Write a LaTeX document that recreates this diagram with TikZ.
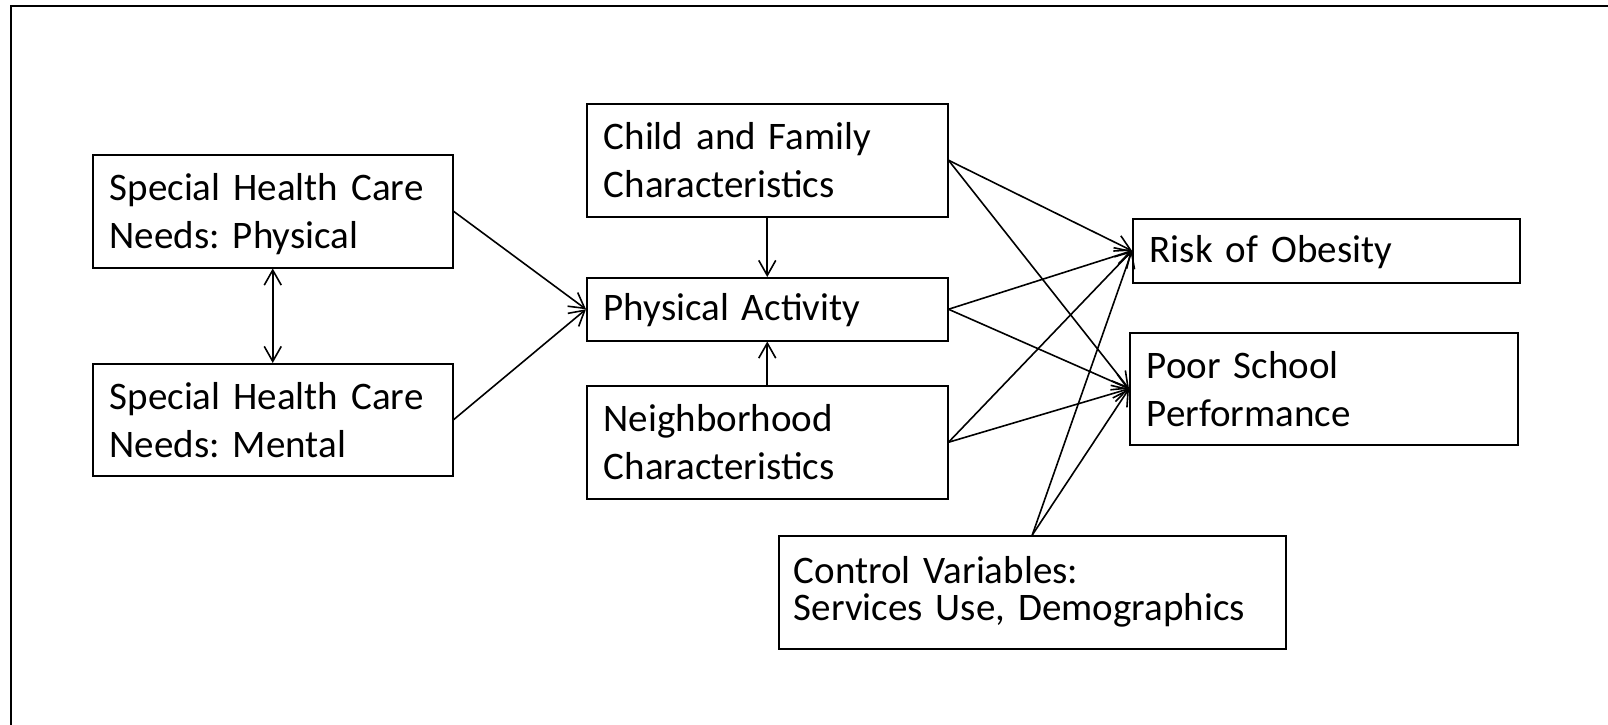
\documentclass[tikz,border=0pt]{standalone}
\usepackage{fontspec}
\setmainfont{Carlito}
\usetikzlibrary{arrows.meta}
\tikzset{
  box/.style={draw=black, line width=1.5pt, anchor=north west, align=left,
    inner xsep=17pt, inner ysep=0pt, font=\frenchspacing\fontsize{39}{48}\selectfont},
  oneline/.style={text height=27pt, text depth=4pt},
  conn/.style={line width=1.6pt, -{Straight Barb[length=15pt,width=17pt,line width=1.6pt]}},
  biconn/.style={line width=1.6pt, {Straight Barb[length=15pt,width=17pt,line width=1.6pt]}-{Straight Barb[length=15pt,width=17pt,line width=1.6pt]}},
  frame/.style={line width=2.2pt}
}
\begin{document}
\begin{tikzpicture}[x=1pt,y=-1pt]
\useasboundingbox (0,0) rectangle (1608,725);
\coordinate (fbl) at (11,725);
\coordinate (ftl) at (11,6);
\coordinate (ftr) at (1608,6);
\draw[frame] (fbl) -- (ftl) -- (ftr);

\node[box, text width=326pt, minimum height=113pt] (shp) at (92,154) {Special Health Care\\\smash{Needs: Physical}};
\node[box, text width=326pt, minimum height=112pt] (shm) at (92,363) {Special Health Care\\Needs: Mental};
\node[box, text width=327pt, minimum height=113pt] (cfc) at (586,103) {Child and Family\\Characteristics};
\node[box, oneline, text width=327pt, minimum height=63pt] (pa) at (586,277) {Physical Activity};
\node[box, text width=327pt, minimum height=113pt] (nc) at (586,385) {Neighborhood\\Characteristics};
\node[box, oneline, text width=353pt, minimum height=64pt] (ro) at (1132,218) {Risk of Obesity};
\node[box, text width=354pt, minimum height=112pt] (ps) at (1129,332) {Poor School\\Performance};
\node[box, text width=477pt, inner xsep=15pt, minimum height=113pt, font=\frenchspacing\fontsize{39}{37}\selectfont] (cv) at (778,535) {Control Variables:\\Services Use, Demographics};

\draw[biconn] (shp.south) -- (shm.north);
\draw[conn] (shp.east) -- (pa.west);
\draw[conn] (shm.east) -- (pa.west);
\draw[conn] (cfc.south) -- (pa.north);
\draw[conn] (nc.north) -- (pa.south);
\draw[conn] (cfc.east) -- (ro.west);
\draw[conn] (cfc.east) -- (ps.west);
\draw[conn] (pa.east) -- (ro.west);
\draw[conn] (pa.east) -- (ps.west);
\draw[conn] (nc.east) -- (ro.west);
\draw[conn] (nc.east) -- (ps.west);
\draw[conn] (cv.north) -- (ro.west);
\draw[conn] (cv.north) -- (ps.west);
\end{tikzpicture}
\end{document}
